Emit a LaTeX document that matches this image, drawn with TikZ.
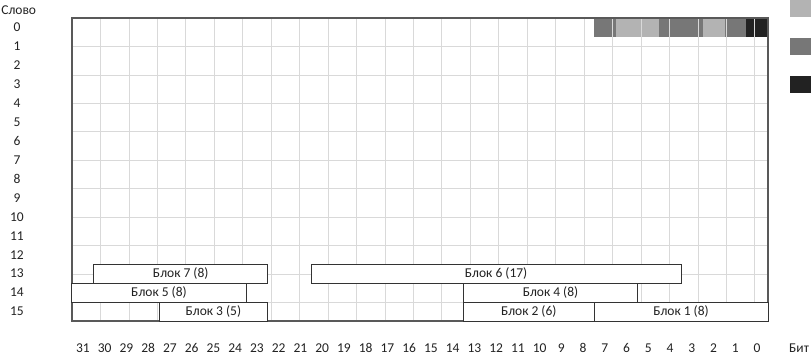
\documentclass[tikz,border=0pt]{standalone}
\usepackage{fontspec}
\setmainfont{Carlito}
\usetikzlibrary{positioning}

\definecolor{bitlight}{HTML}{B3B3B3}
\definecolor{bitmid}{HTML}{777777}
\definecolor{bitdark}{HTML}{222222}
\definecolor{gridgray}{HTML}{D9D9D9}
\definecolor{textgray}{HTML}{222222}

\begin{document}
\begin{tikzpicture}[
    x=21.75pt, y=-18.9375pt,
    font=\fontsize{13.5}{15}\selectfont, text=textgray,
    gridline/.style={draw=gridgray, line width=0.8pt},
    frame/.style={draw=black!65, line width=1.2pt},
    blk/.style={rectangle, draw=black!80, line width=1pt, fill=white,
                minimum height=18.9375pt, inner sep=0pt, outer sep=0pt},
    lbl/.style={inner sep=0pt, anchor=center},
  ]

  \useasboundingbox (-3.3103,-0.9505) rectangle (33.977,17.795);

  % coloured bits of word 0
  \foreach \c/\col in {24/bitmid, 25/bitlight, 26/bitlight, 27/bitmid,
                       28/bitmid, 29/bitlight, 30/bitmid, 31/bitdark}
    \fill[\col] (\c,0) rectangle (\c+1,1);

  % grid and frame
  \draw[gridline] (0,0) grid (32,16);
  \draw[frame] (0,0) rectangle (32,16);

  % row labels
  \node[lbl] (slovo) at (-2.45,-0.42) {Слово};
  \foreach \r in {0,...,15}
    \node[lbl] (row\r) at (-2.53,\r+0.5) {\r};

  % column labels
  \foreach \b in {0,...,31}
    \node[lbl] (bit\b) at (31.5-\b,17.42) {\b};
  \node[lbl] (bitlbl) at (33.43,17.42) {Бит};

  % blocks
  \node[blk, minimum width=8*21.75pt]  (blk7) at (5,13.5)    {Блок 7 (8)};
  \node[blk, minimum width=17*21.75pt] (blk6) at (19.5,13.5) {Блок 6 (17)};
  \node[blk, minimum width=8*21.75pt]  (blk5) at (4,14.5)    {Блок 5 (8)};
  \node[blk, minimum width=8*21.75pt]  (blk4) at (22,14.5)   {Блок 4 (8)};
  \node[blk, minimum width=5*21.75pt]  (blk3) at (6.5,15.5)  {Блок 3 (5)};
  \node[blk, minimum width=6*21.75pt]  (blk2) at (21,15.5)   {Блок 2 (6)};
  \node[blk, minimum width=8*21.75pt]  (blk1) at (28,15.5)   {Блок 1 (8)};

  % legend swatches
  \fill[bitlight] (33.01,-0.9505) rectangle (33.977,-0.053);
  \fill[bitmid]   (33.01,1.056)   rectangle (33.977,1.954);
  \fill[bitdark]  (33.01,3.06)    rectangle (33.977,3.96);

\end{tikzpicture}
\end{document}
